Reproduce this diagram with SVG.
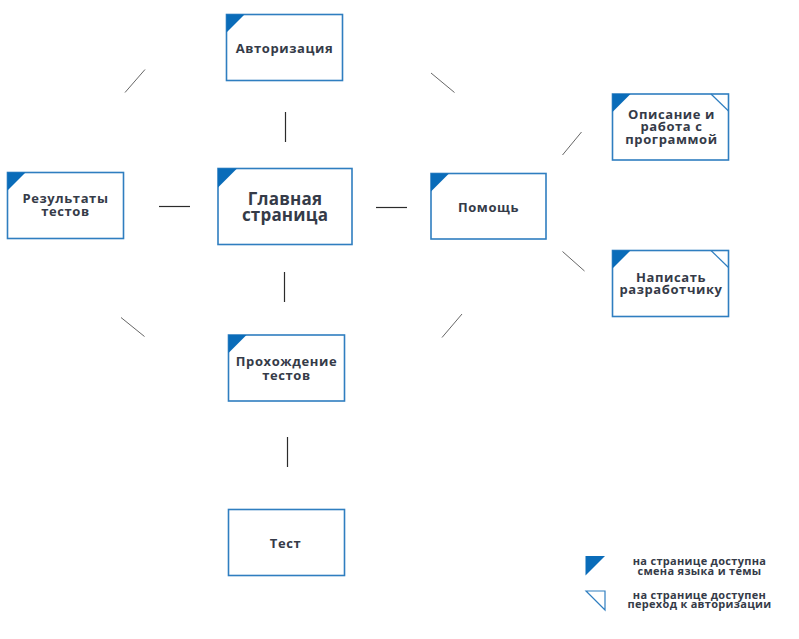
<svg xmlns="http://www.w3.org/2000/svg" width="799" height="639" viewBox="0 0 799 639">
<style>
.box{fill:#fff;stroke:#2f7ec0;stroke-width:1.6}
.lang{fill:#0a6cb9}
.auth{fill:none;stroke:#2f7ec0;stroke-width:1.2}
.t{font-family:"Open Sans","Noto Sans",sans-serif;font-weight:bold;font-size:13px;fill:#353b48;text-anchor:middle;letter-spacing:0.6px}
.big{font-size:17px;letter-spacing:0.2px}
.lg{font-size:11px;letter-spacing:0.3px}
.c{stroke:#2b2b2b;stroke-width:1.2;fill:none}
.d{stroke:#555;stroke-width:0.9;fill:none}
</style>
<rect width="799" height="639" fill="#fff"/>
<g id="connectors">
<line class="c" x1="285.5" y1="112" x2="285.5" y2="142"/>
<line class="c" x1="284.5" y1="272" x2="284.5" y2="302"/>
<line class="c" x1="287.5" y1="437" x2="287.5" y2="467"/>
<line class="c" x1="159" y1="206.5" x2="190" y2="206.5"/>
<line class="c" x1="376" y1="207.5" x2="407" y2="207.5"/>
<line class="d" x1="125" y1="92.5" x2="145" y2="69.5"/>
<line class="d" x1="431" y1="73" x2="454.5" y2="92.5"/>
<line class="d" x1="562.5" y1="155" x2="581.5" y2="132"/>
<line class="d" x1="562.5" y1="251.5" x2="584.5" y2="271"/>
<line class="d" x1="121" y1="317.5" x2="144.5" y2="336.5"/>
<line class="d" x1="442" y1="337.5" x2="462" y2="314"/>
</g>
<g id="avtorizatsiya">
<rect class="box" x="226.5" y="14.5" width="116" height="66"/>
<polygon class="lang" points="226.5,14.5 244.5,14.5 226.5,32.5"/>
<text class="t" x="284.5" y="52.5">Авторизация</text>
</g>
<g id="glavnaya">
<rect class="box" x="218" y="168.5" width="134" height="76"/>
<polygon class="lang" points="218,168.5 237,168.5 218,187.5"/>
<text class="t big" x="285" y="205">Главная</text>
<text class="t big" x="285" y="221">страница</text>
</g>
<g id="rezultaty">
<rect class="box" x="7.5" y="172.5" width="116" height="66"/>
<polygon class="lang" points="7.5,172.5 25.5,172.5 7.5,190.5"/>
<text class="t" x="65.5" y="203">Результаты</text>
<text class="t" x="65.5" y="216">тестов</text>
</g>
<g id="pomosch">
<rect class="box" x="431" y="173.5" width="115" height="65.5"/>
<polygon class="lang" points="431,173.5 449,173.5 431,191.5"/>
<text class="t" x="488.5" y="211.5">Помощь</text>
</g>
<g id="opisanie">
<rect class="box" x="612.5" y="94" width="116" height="66"/>
<polygon class="lang" points="612.5,94 630.5,94 612.5,112"/>
<line class="auth" x1="711" y1="94" x2="728.5" y2="111"/>
<text class="t" x="671.5" y="118.5">Описание и</text>
<text class="t" x="671.5" y="131">работа с</text>
<text class="t" x="671.5" y="143.5">программой</text>
</g>
<g id="napisat">
<rect class="box" x="612.5" y="250.5" width="116" height="66"/>
<polygon class="lang" points="612.5,250.5 630.5,250.5 612.5,268.5"/>
<line class="auth" x1="711" y1="250.5" x2="728.5" y2="267.5"/>
<text class="t" x="671" y="281.5">Написать</text>
<text class="t" x="671" y="294">разработчику</text>
</g>
<g id="prohozhdenie">
<rect class="box" x="228.5" y="335" width="116" height="66"/>
<polygon class="lang" points="228.5,335 246.5,335 228.5,353"/>
<text class="t" x="286.5" y="366">Прохождение</text>
<text class="t" x="286.5" y="379.5">тестов</text>
</g>
<g id="test">
<rect class="box" x="228.5" y="509.5" width="116" height="66"/>
<text class="t" x="285.5" y="548">Тест</text>
</g>
<g id="legend">
<polygon class="lang" points="585.5,556 605,556 585.5,575.5"/>
<polygon class="auth" points="586,591 605,591 605,610"/>
<text class="t lg" x="699.5" y="565">на странице доступна</text>
<text class="t lg" x="699.5" y="574.5">смена языка и темы</text>
<text class="t lg" x="699.5" y="598.5">на странице доступен</text>
<text class="t lg" x="699.5" y="608">переход к авторизации</text>
</g>
</svg>
